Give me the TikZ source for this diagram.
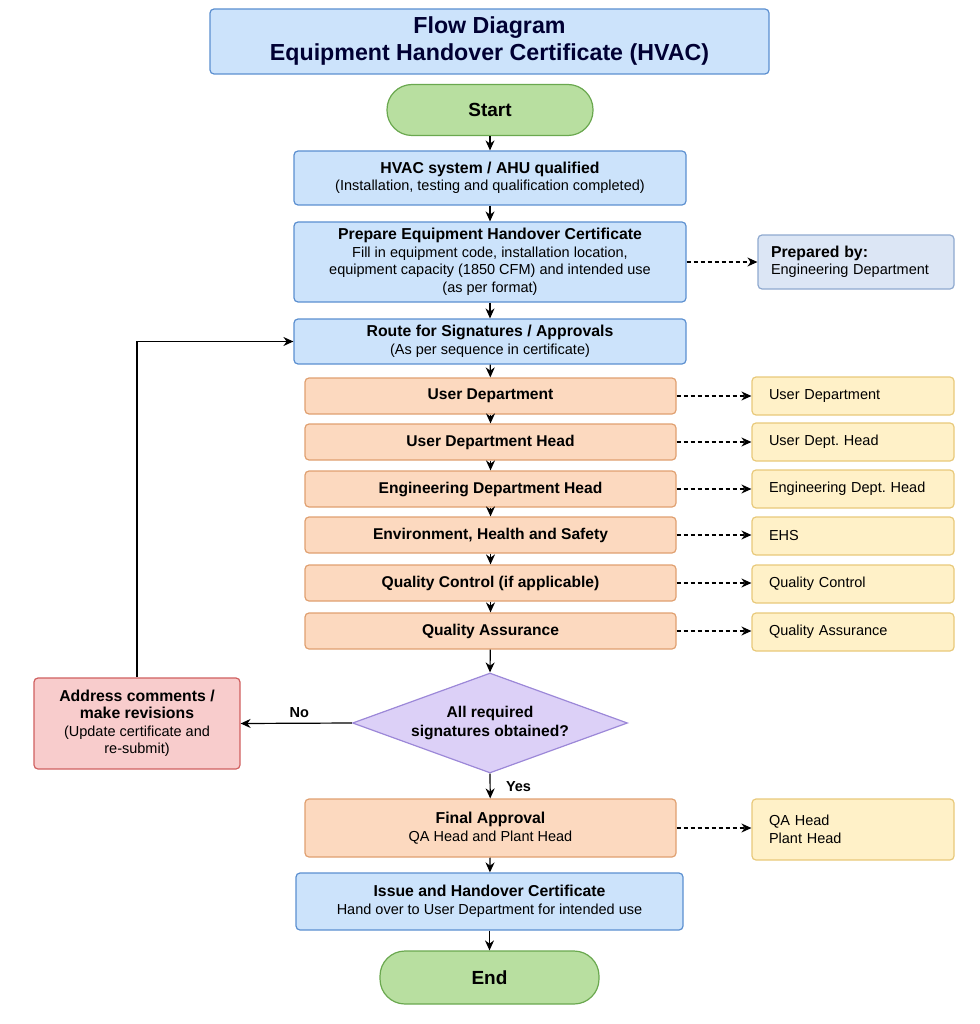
\documentclass[tikz,border=0pt]{standalone}
\usepackage{fontspec}
\setmainfont{Liberation Sans}
\usetikzlibrary{shapes.geometric,arrows.meta}
\definecolor{bfill}{HTML}{CCE3FB}\definecolor{bdraw}{HTML}{5B8FD0}
\definecolor{ofill}{HTML}{FCD9BF}\definecolor{odraw}{HTML}{E0A070}
\definecolor{yfill}{HTML}{FFF1C8}\definecolor{ydraw}{HTML}{E8C97A}
\definecolor{gfill}{HTML}{B8DFA0}\definecolor{gdraw}{HTML}{6AA84F}
\definecolor{rfill}{HTML}{F8CCCC}\definecolor{rdraw}{HTML}{D06060}
\definecolor{pfill}{HTML}{DCD0F7}\definecolor{pdraw}{HTML}{9C88D8}
\definecolor{sfill}{HTML}{DCE6F5}\definecolor{sdraw}{HTML}{8FA9CF}
\tikzset{
 box/.style={draw, line width=1.2pt, rounded corners=4pt, align=center, inner sep=0pt, font=\fontsize{14.5}{17.5}\selectfont},
 blue/.style={box, fill=bfill, draw=bdraw},
 org/.style={box, fill=ofill, draw=odraw, minimum width=371pt, minimum height=36pt, font=\fontsize{15.6}{18}\selectfont\bfseries},
 yel/.style={box, fill=yfill, draw=ydraw, minimum width=202pt, minimum height=38pt, align=left, text width=168pt},
 term/.style={box, fill=gfill, draw=gdraw, rounded corners=25pt, font=\fontsize{19}{22}\selectfont\bfseries},
 arr/.style={-{Stealth[length=10pt,width=9pt]}, line width=1.2pt},
 dar/.style={arr, dashed, dash pattern=on 4pt off 3pt}
}
\newcommand{\bt}[1]{{\fontsize{15.8}{18.5}\selectfont\bfseries #1}}
\begin{document}
\frenchspacing
\begin{tikzpicture}[x=1pt,y=-1pt]
\useasboundingbox (0,0) rectangle (979,1024);
\node[blue, minimum width=559pt, minimum height=65pt, font=\fontsize{23.2}{27}\selectfont\bfseries, text=black!80!blue] (title) at (489.5,41.5) {Flow Diagram\\Equipment Handover Certificate (HVAC)};
\node[term, minimum width=206pt, minimum height=51pt] (start) at (490,110) {Start};
\node[blue, minimum width=392pt, minimum height=54pt] (hvac) at (490,178) {\bt{HVAC system / AHU qualified}\\(Installation, testing and qualification completed)};
\node[blue, minimum width=392pt, minimum height=80pt] (prep) at (490,262) {\bt{Prepare Equipment Handover Certificate}\\Fill in equipment code, installation location,\\equipment capacity (1850 CFM) and intended use\\(as per format)};
\node[box, fill=sfill, draw=sdraw, minimum width=196pt, minimum height=54pt, align=left, text width=170pt] (prepby) at (856,262) {\bt{Prepared by:}\\Engineering Department};
\node[blue, minimum width=392pt, minimum height=45pt] (route) at (490,341.5) {\bt{Route for Signatures / Approvals}\\(As per sequence in certificate)};
\node[org] (o1) at (490.5,396) {User Department};
\node[org] (o2) at (490.5,442) {User Department Head};
\node[org] (o3) at (490.5,489) {Engineering Department Head};
\node[org] (o4) at (490.5,535) {Environment, Health and Safety};
\node[org] (o5) at (490.5,583) {Quality Control (if applicable)};
\node[org] (o6) at (490.5,631) {Quality Assurance};
\node[yel] (y1) at (853,396) {User Department};
\node[yel] (y2) at (853,442) {User Dept. Head};
\node[yel] (y3) at (853,489) {Engineering Dept. Head};
\node[yel] (y4) at (853,536) {EHS};
\node[yel] (y5) at (853,584) {Quality Control};
\node[yel] (y6) at (853,632) {Quality Assurance};
\node[diamond, draw=pdraw, fill=pfill, line width=1.2pt, minimum width=275pt, minimum height=100pt, inner sep=0pt] (dec) at (490,723) {};
\node[align=center, font=\fontsize{15.6}{19}\selectfont\bfseries] (dect) at (dec.center) {All required\\signatures obtained?};
\node[box, fill=rfill, draw=rdraw, minimum width=206pt, minimum height=91pt] (addr) at (137,723.5) {\bt{Address comments /}\\\bt{make revisions}\\(Update certificate and\\re-submit)};
\node[org, minimum height=58pt, font=\fontsize{14.5}{17.5}\selectfont] (final) at (490.5,828) {\bt{Final Approval}\\QA Head and Plant Head};
\node[yel, minimum height=61pt] (y7) at (853,829.5) {QA Head\\Plant Head};
\node[blue, minimum width=387pt, minimum height=57pt] (issue) at (489.5,901.5) {\bt{Issue and Handover Certificate}\\Hand over to User Department for intended use};
\node[term, minimum width=219pt, minimum height=53pt] (end) at (489.5,977.5) {End};
\draw[arr] (start) -- (hvac);
\draw[arr] (hvac) -- (prep);
\draw[arr] (prep) -- (route);
\draw[arr] (route) -- (o1);
\draw[arr] (o1) -- (o2);
\draw[arr] (o2) -- (o3);
\draw[arr] (o3) -- (o4);
\draw[arr] (o4) -- (o5);
\draw[arr] (o5) -- (o6);
\draw[arr] (o6) -- (dec.north);
\draw[arr] (dec.south) -- node[right, xshift=12pt, yshift=-1pt, font=\fontsize{14.5}{17}\selectfont\bfseries]{Yes} (final);
\draw[arr] (final) -- (issue);
\draw[arr] (issue) -- (end);
\draw[arr] (dec.west) -- node[above, xshift=3pt, yshift=2pt, font=\fontsize{14.5}{17}\selectfont\bfseries]{No} (addr.east);
\draw[arr] (addr.north) |- (route.west);
\draw[dar] (prep.east |- prepby.west) -- (prepby.west);
\foreach \i in {1,...,6} \draw[dar] (o\i.east) -- (o\i.east -| y\i.west);
\draw[dar] (final.east) -- (final.east -| y7.west);
\end{tikzpicture}
\end{document}
